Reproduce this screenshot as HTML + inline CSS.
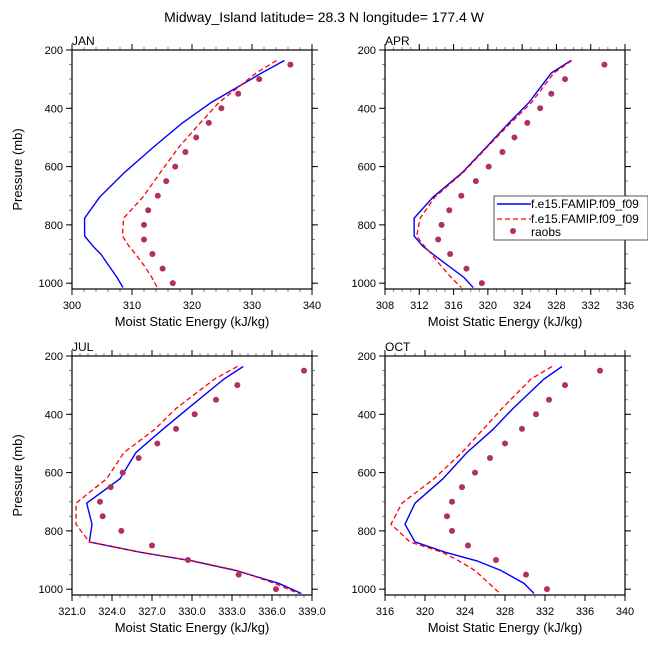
<!DOCTYPE html>
<html><head><meta charset="utf-8"><style>
body{margin:0;background:#fff}
svg{display:block;font-family:"Liberation Sans",sans-serif}
</style></head><body>
<svg id="chart" width="648" height="648" viewBox="0 0 648 648">
<text x="324" y="22" text-anchor="middle" font-size="14">Midway_Island  latitude= 28.3 N longitude= 177.4 W</text>
</svg>
<script>
const levels = [236,279,380,452,531,621,705,777,838,873,903,936,980,1015];
const obsLevels = [250,300,350,400,450,500,550,600,650,700,750,800,850,900,950,1000];
const yTicks = [200,400,600,800,1000];

const janBlue = [335.4,331.6,323.2,318.3,313.7,308.7,304.6,302.1,302.1,303.5,304.9,306.0,307.5,308.5];
const janRed  = [334.1,330.7,324.5,321.3,317.9,314.7,311.8,308.6,308.4,309.5,310.7,311.9,313.3,314.2];
const janObs  = [336.4,331.2,327.7,324.9,322.8,320.7,318.9,317.2,315.7,314.3,312.7,312.0,312.0,313.4,315.1,316.8];

const aprBlue = [329.7,327.4,324.8,322.4,319.9,317.0,313.6,311.4,311.4,312.4,313.7,315.2,317.2,318.3];
const aprRed  = [329.8,327.7,325.1,322.6,320.0,317.1,313.8,312.1,311.7,312.6,313.5,314.4,315.7,316.9];
const aprObs  = [333.6,329.0,327.4,326.1,324.6,323.1,321.7,320.1,318.6,316.9,315.5,314.6,314.2,315.6,317.5,319.3];

const julBlue = [333.84,332.4,329.7,327.8,325.8,324.6,322.1,322.5,322.3,326.1,330.0,333.3,336.5,338.2];
const julRed  = [333.4,331.7,328.8,327.2,324.9,323.6,321.3,321.3,322.3,326.1,330.1,333.4,336.2,338.0];
const julObs  = [338.4,333.4,331.8,330.2,328.8,327.4,326.0,324.8,323.9,323.1,323.3,324.7,327.0,329.7,333.5,336.3];

const octBlue = [333.7,331.9,328.8,326.8,324.2,321.8,319.0,318.0,319.0,322.0,325.2,327.6,329.9,330.9];
const octRed  = [332.7,330.6,327.7,325.8,323.7,320.9,317.7,316.6,318.5,321.7,323.4,325.0,326.4,327.5];
const octObs  = [337.5,334.0,332.4,331.1,329.7,328.0,326.5,325.0,323.7,322.7,322.2,322.7,324.3,327.1,330.1,332.2];

const janTicks = [300,310,320,330,340];
const aprTicks = [308,312,316,320,324,328,332,336];
const julTicks = [321,324,327,330,333,336,339];
const octTicks = [316,320,324,328,332,336,340];

const NS='http://www.w3.org/2000/svg';
const svg=document.getElementById('chart');
function mk(tag,attrs,parent){const e=document.createElementNS(NS,tag);for(const k in attrs)e.setAttribute(k,attrs[k]);(parent||svg).appendChild(e);return e;}

const panels=[
 {name:'jan',label:'JAN',x0:72,y0:50,xmin:300,xmax:340,ticks:janTicks,minor:2,dec:0,blue:janBlue,red:janRed,obs:janObs,ylab:true},
 {name:'apr',label:'APR',x0:385,y0:50,xmin:308,xmax:336,ticks:aprTicks,minor:1,dec:0,blue:aprBlue,red:aprRed,obs:aprObs,ylab:false},
 {name:'jul',label:'JUL',x0:72,y0:356,xmin:321,xmax:339,ticks:julTicks,minor:0.6,dec:1,blue:julBlue,red:julRed,obs:julObs,ylab:true},
 {name:'oct',label:'OCT',x0:385,y0:356,xmin:316,xmax:340,ticks:octTicks,minor:1,dec:0,blue:octBlue,red:octRed,obs:octObs,ylab:false}
];
const W=240,H=239,PMIN=200,PMAX=1020;

panels.forEach(p=>{
 const g=mk('g',{});
 
 
 const xs=v=>p.x0+(v-p.xmin)/(p.xmax-p.xmin)*W;
 const ys=v=>p.y0+(v-PMIN)/(PMAX-PMIN)*H;
 for(let v=p.xmin;v<=p.xmax+1e-6;v+=p.minor){
  const x=xs(v);
  mk('line',{x1:x,x2:x,y1:p.y0,y2:p.y0-3,stroke:'#888','stroke-width':1},g);
  mk('line',{x1:x,x2:x,y1:p.y0+H,y2:p.y0+H+3,stroke:'#888','stroke-width':1},g);
 }
 for(let v=250;v<=1000;v+=50){
  const y=ys(v);
  mk('line',{x1:p.x0,x2:p.x0-3,y1:y,y2:y,stroke:'#888','stroke-width':1},g);
  mk('line',{x1:p.x0+W,x2:p.x0+W+3,y1:y,y2:y,stroke:'#888','stroke-width':1},g);
 }
 p.ticks.forEach(v=>{
  const x=xs(v);
  mk('line',{x1:x,x2:x,y1:p.y0,y2:p.y0-6,stroke:'#000','stroke-width':1},g);
  mk('line',{x1:x,x2:x,y1:p.y0+H,y2:p.y0+H+6,stroke:'#000','stroke-width':1},g);
  const t=mk('text',{x:x,y:p.y0+H+20,'text-anchor':'middle','font-size':11},g);
  t.textContent=v.toFixed(p.dec);
  
  
 });
 yTicks.forEach(v=>{
  const y=ys(v);
  mk('line',{x1:p.x0,x2:p.x0-6,y1:y,y2:y,stroke:'#000','stroke-width':1},g);
  mk('line',{x1:p.x0+W,x2:p.x0+W+6,y1:y,y2:y,stroke:'#000','stroke-width':1},g);
  const t=mk('text',{x:p.x0-9,y:y+4,'text-anchor':'end','font-size':11},g);
  t.textContent=v;
  
  
 });
 mk('rect',{x:p.x0,y:p.y0,width:W,height:H,fill:'none',stroke:'#000','stroke-width':1.2},g);
 const lb=mk('text',{x:p.x0,y:p.y0-5,'font-size':12},g);
 lb.textContent=p.label;
 
 
 const xt=mk('text',{x:p.x0+W/2,y:p.y0+H+37,'text-anchor':'middle','font-size':13},g);
 xt.textContent='Moist Static Energy (kJ/kg)';
 
 
 if(p.ylab){
  const cy=p.y0+H/2;
  const yt=mk('text',{x:22,y:cy,'text-anchor':'middle','font-size':13,transform:'rotate(-90 22 '+cy+')'},g);
  yt.textContent='Pressure (mb)';
  
  
 }
 const bp=mk('polyline',{points:p.blue.map((v,i)=>xs(v)+','+ys(levels[i])).join(' '),fill:'none',stroke:'#0000ff','stroke-width':1.4},g);
 
 
 const rp=mk('polyline',{points:p.red.map((v,i)=>xs(v)+','+ys(levels[i])).join(' '),fill:'none',stroke:'#ff0000','stroke-width':1.3,'stroke-dasharray':'5,3'},g);
 
 
 p.obs.forEach((v,i)=>{
  const c=mk('circle',{cx:xs(v),cy:ys(obsLevels[i]),r:3,fill:'#b0305f'},g);
  
  
 });
});
</script>
<svg style="position:absolute;left:0;top:0" width="648" height="648">
<g font-family="Liberation Sans, sans-serif" font-size="12">
<rect x="494" y="196" width="154" height="44" fill="#fff" stroke="#555" stroke-width="1"/>
<line x1="497" y1="204" x2="531" y2="204" stroke="#0000ff" stroke-width="1.4"/>
<text x="531" y="208">f.e15.FAMIP.f09_f09</text>
<line x1="497" y1="219" x2="531" y2="219" stroke="#ff0000" stroke-width="1.3" stroke-dasharray="5,3"/>
<text x="531" y="223">f.e15.FAMIP.f09_f09</text>
<circle cx="513" cy="231" r="3" fill="#b0305f"/>
<text x="531" y="236">raobs</text>
</g>
</svg>
</body></html>
